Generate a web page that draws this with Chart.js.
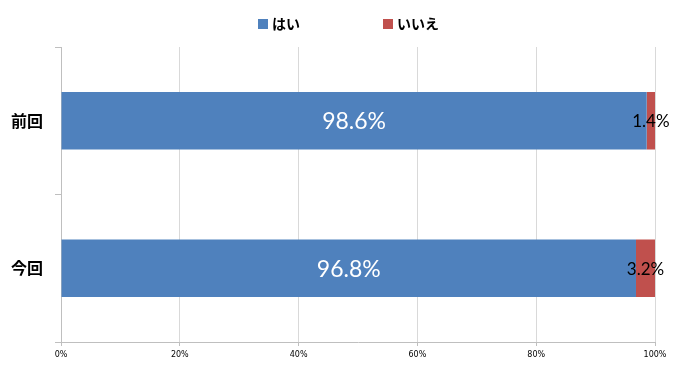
<!DOCTYPE html>
<html>
<head>
<meta charset="utf-8">
<script src="https://cdn.jsdelivr.net/npm/chart.js@4/dist/chart.umd.min.js"></script>
<style>
  html, body { margin: 0; padding: 0; background: #fff; }
  #wrap { width: 679px; height: 366px; }
</style>
</head>
<body>
<div id="wrap"><canvas id="grafico" width="679" height="366"></canvas></div>
<script>
// Datos
const categorias = ['前回', '今回'];
const valoresSi = [98.6, 96.8];
const valoresNo = [1.4, 3.2];
const ticksX = [0, 20, 40, 60, 80, 100];

// Colores
const COLORES = {
    azul: '#4F81BD',
    rojo: '#C0504D',
    grid: '#D9D9D9',
    eje: '#BFBFBF'
};

// Leyenda arriba, con espacio amplio entre elementos
const leyendaPlugin = {
    id: 'leyenda',
    afterDraw(chart) {
        const ctx = chart.ctx;
        ctx.save();
        ctx.font = 'bold 14px "Noto Sans CJK JP"';
        ctx.textBaseline = 'middle';
        const caja = 10, sep = 4, hueco = 83;
        const items = chart.data.datasets.map(ds => ({
            texto: ds.label, color: ds.backgroundColor,
            ancho: caja + sep + ctx.measureText(ds.label).width
        }));
        const total = items.reduce((s, it) => s + it.ancho, 0) + hueco * (items.length - 1);
        let x = Math.round(chart.width / 2 - total / 2) + 9;
        const y = 24;
        items.forEach(it => {
            ctx.fillStyle = it.color;
            ctx.fillRect(x, y - caja / 2, caja, caja);
            ctx.fillStyle = '#000';
            ctx.fillText(it.texto, x + caja + sep, y);
            x += it.ancho + hueco;
        });
        ctx.restore();
    }
};

// Etiquetas de datos dentro de las barras
const etiquetasPlugin = {
    id: 'etiquetas',
    afterDatasetsDraw(chart) {
        const ctx = chart.ctx;
        ctx.save();
        ctx.textAlign = 'center';
        ctx.textBaseline = 'middle';
        chart.data.datasets.forEach((ds, i) => {
            const meta = chart.getDatasetMeta(i);
            meta.data.forEach((bar, j) => {
                const x = (bar.x + bar.base) / 2;
                if (i === 0) {
                    ctx.fillStyle = '#fff';
                    ctx.font = '23px Lato, "Open Sans", sans-serif';
                } else {
                    ctx.fillStyle = '#000';
                    ctx.font = '17px Lato, "Open Sans", sans-serif';
                }
                ctx.fillText(ds.data[j].toFixed(1) + '%', x, bar.y + 1);
            });
        });
        ctx.restore();
    }
};

new Chart(document.getElementById('grafico'), {
    type: 'bar',
    data: {
        labels: categorias,
        datasets: [
            { label: 'はい', data: valoresSi, backgroundColor: COLORES.azul },
            { label: 'いいえ', data: valoresNo, backgroundColor: COLORES.rojo }
        ]
    },
    options: {
        indexAxis: 'y',
        responsive: false,
        animation: false,
        layout: { padding: { left: 0, right: 24, top: 47, bottom: 0 } },
        datasets: {
            bar: { categoryPercentage: 1, barPercentage: 0.39 }
        },
        plugins: {
            legend: { display: false },
            tooltip: { enabled: false }
        },
        scales: {
            x: {
                stacked: true,
                min: 0,
                max: 100,
                afterBuildTicks: scale => { scale.ticks = ticksX.map(v => ({ value: v })); },
                afterFit: scale => { scale.height = 24; },
                grid: { color: COLORES.grid, tickLength: 4, tickColor: COLORES.eje },
                border: { color: COLORES.eje },
                ticks: {
                    color: '#000',
                    padding: 4,
                    font: { size: 8, family: 'Tahoma, "DejaVu Sans", sans-serif' },
                    callback: v => v + '%'
                }
            },
            y: {
                stacked: true,
                afterFit: scale => { scale.width = 61; },
                grid: { offset: true, drawOnChartArea: false, tickLength: 6, color: COLORES.eje },
                border: { color: COLORES.eje },
                ticks: {
                    color: '#000',
                    padding: 12,
                    font: { size: 16, family: '"Noto Sans CJK JP"', weight: 'bold' }
                }
            }
        }
    },
    plugins: [etiquetasPlugin, leyendaPlugin]
});
</script>
</body>
</html>
